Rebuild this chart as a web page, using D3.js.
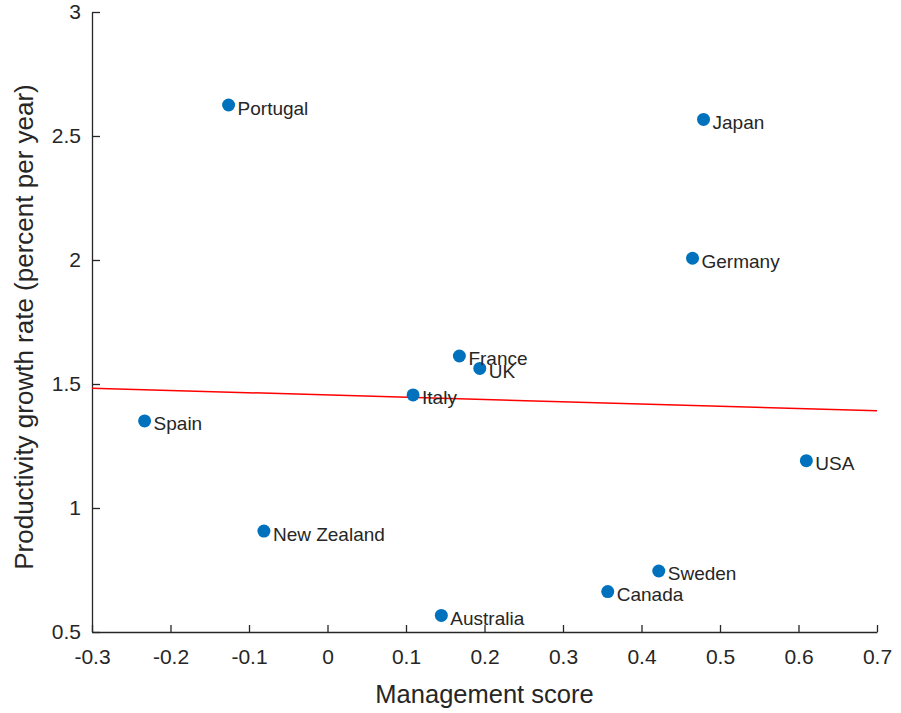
<!DOCTYPE html>
<html>
<head>
<meta charset="utf-8">
<script src="https://cdn.jsdelivr.net/npm/d3@7"></script>
<style>
  html, body { margin: 0; padding: 0; background: #fff; }
  svg { display: block; font-family: "Liberation Sans", Arial, Helvetica, sans-serif; }
</style>
</head>
<body>
<svg id="chart" width="901" height="713"></svg>
<script>
const countries = ["Portugal","Japan","Germany","France","UK","Italy","Spain","New Zealand","Australia","Canada","Sweden","USA"];
const managementScore = [-0.126, 0.479, 0.465, 0.168, 0.194, 0.109, -0.233, -0.081, 0.145, 0.357, 0.422, 0.610];
const growthRate = [2.625, 2.567, 2.007, 1.613, 1.563, 1.456, 1.351, 0.907, 0.567, 0.663, 0.746, 1.191];
const fitX = [-0.3, 0.7];
const fitY = [1.483, 1.392];
const xTicks = [-0.3, -0.2, -0.1, 0, 0.1, 0.2, 0.3, 0.4, 0.5, 0.6, 0.7];
const yTicks = [0.5, 1, 1.5, 2, 2.5, 3];
const xLabel = "Management score";
const yLabel = "Productivity growth rate (percent per year)";

const W = 901, H = 713;
const margin = {left: 92, top: 12, right: 24, bottom: 81};
const svg = d3.select("#chart");
const x = d3.scaleLinear().domain([-0.3, 0.7]).range([margin.left, W - margin.right]);
const y = d3.scaleLinear().domain([0.5, 3]).range([H - margin.bottom, margin.top]);
const ink = "#262626";
const fmt = v => (Math.round(v * 10) / 10).toString();

const gx = svg.append("g")
  .attr("transform", `translate(0,${H - margin.bottom})`)
  .call(d3.axisBottom(x).tickValues(xTicks).tickFormat(fmt).tickSizeInner(-7).tickSizeOuter(0).tickPadding(17));
const gy = svg.append("g")
  .attr("transform", `translate(${margin.left},0)`)
  .call(d3.axisLeft(y).tickValues(yTicks).tickFormat(fmt).tickSizeInner(-8).tickSizeOuter(0).tickPadding(11));
[gx, gy].forEach(g => {
  g.select(".domain").attr("stroke", ink).attr("stroke-width", 1.3);
  g.selectAll(".tick line").attr("stroke", ink).attr("stroke-width", 1.3);
  g.selectAll(".tick text").attr("fill", ink).style("font-size", "21px");
});

svg.append("text")
  .attr("x", (x.range()[0] + x.range()[1]) / 2)
  .attr("y", 703)
  .attr("text-anchor", "middle")
  .attr("fill", ink)
  .style("font-size", "25.5px")
  .text(xLabel);
svg.append("text")
  .attr("transform", `translate(33,${(y.range()[0] + y.range()[1]) / 2 + 5}) rotate(-90)`)
  .attr("text-anchor", "middle")
  .attr("fill", ink)
  .style("font-size", "26px")
  .text(yLabel);

// regression line
svg.append("path")
  .datum(fitX.map((v, i) => [v, fitY[i]]))
  .attr("d", d3.line().x(d => x(d[0])).y(d => y(d[1])))
  .attr("fill", "none")
  .attr("stroke", "#ff0000")
  .attr("stroke-width", 1.5);

const data = countries.map((c, i) => ({c, m: managementScore[i], g: growthRate[i]}));
svg.append("g").selectAll("circle").data(data).join("circle")
  .attr("cx", d => x(d.m)).attr("cy", d => y(d.g)).attr("r", 6.5)
  .attr("fill", "#0072BD");
svg.append("g").selectAll("text").data(data).join("text")
  .attr("x", d => x(d.m) + 9).attr("y", d => y(d.g) + 9.5)
  .attr("fill", ink)
  .style("font-size", "19px")
  .text(d => d.c);
</script>
</body>
</html>
